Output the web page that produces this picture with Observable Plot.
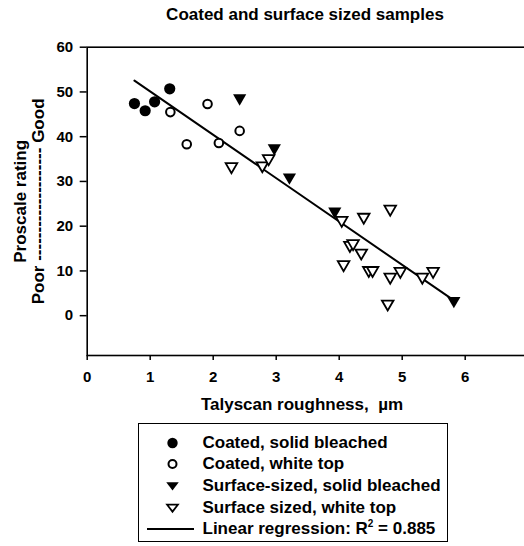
<!DOCTYPE html>
<html><head><meta charset="utf-8">
<script src="https://cdn.jsdelivr.net/npm/d3@7"></script>
<script src="https://cdn.jsdelivr.net/npm/@observablehq/plot@0.6"></script>
<style>
html,body{margin:0;padding:0;overflow:hidden;background:#fff;}
body{font-family:"Liberation Sans",Arial,sans-serif;font-weight:bold;color:#000;width:524px;height:546px;position:relative;}
#title{position:absolute;left:86px;width:438px;top:6px;line-height:18px;text-align:center;font-size:17px;white-space:nowrap;}
#chart{position:absolute;left:0;top:36px;width:540px;}
#chart svg{max-width:none !important;}
#legend{position:absolute;left:138px;top:423px;width:310px;height:119px;border:1.5px solid #000;box-sizing:border-box;}
.row{position:absolute;left:0;height:20px;width:305px;font-size:17px;line-height:20px;white-space:nowrap;}
.row svg{position:absolute;left:0;top:0;}
.row span{position:absolute;left:63.5px;top:0;}
</style>
</head><body>
<div id="title"></div>
<div id="chart"></div>
<div id="legend"></div>
<script>
// ---- data ----
const chartTitle = "Coated and surface sized samples";
const xTitle = "Talyscan roughness,  µm";
const yTitleLines = ["Proscale rating", "Poor -------------------- Good"];
const xTicks = [0, 1, 2, 3, 4, 5, 6, 7];
const yTicks = [0, 10, 20, 30, 40, 50, 60];

const seriesNames = ["Coated, solid bleached", "Coated, white top", "Surface-sized, solid bleached", "Surface sized, white top"];
const regressionLabel = "Linear regression: R";
const regressionR2 = "0.885";

const coatedSolidX = [0.75, 0.92, 1.07, 1.31];
const coatedSolidY = [47.4, 45.8, 47.8, 50.7];
const coatedWhiteX = [1.32, 1.58, 1.91, 2.09, 2.42];
const coatedWhiteY = [45.5, 38.3, 47.3, 38.6, 41.3];
const sizedSolidX = [2.42, 2.97, 3.21, 3.93, 5.82];
const sizedSolidY = [48.3, 37.1, 30.6, 23.0, 3.0];
const sizedWhiteX = [2.29, 2.78, 2.88, 4.04, 4.07, 4.17, 4.22, 4.35, 4.39, 4.47, 4.53, 4.77, 4.81, 4.81, 4.97, 5.32, 5.49];
const sizedWhiteY = [33.0, 33.2, 34.8, 21.0, 11.1, 15.4, 15.8, 13.7, 21.7, 9.8, 9.8, 2.3, 8.3, 23.5, 9.6, 8.3, 9.6];

const regressionIntercept = 59.8;
const regressionSlope = -9.69;

// ---- build tables ----
const pts = (xs, ys) => xs.map((x, i) => ({x, y: ys[i]}));
const cs = pts(coatedSolidX, coatedSolidY);
const cw = pts(coatedWhiteX, coatedWhiteY);
const ss = pts(sizedSolidX, sizedSolidY);
const sw = pts(sizedWhiteX, sizedWhiteY);
const allX = [...coatedSolidX, ...coatedWhiteX, ...sizedSolidX, ...sizedWhiteX];
const [xmin, xmax] = d3.extent(allX);
const reg = [xmin, xmax].map(x => ({x, y: regressionIntercept + regressionSlope * x}));

document.getElementById("title").textContent = chartTitle;

const font = {fontFamily: "'Liberation Sans', Arial, sans-serif", fontWeight: "bold"};

const plot = Plot.plot({
  width: 540, height: 384,
  marginLeft: 86.7, marginRight: 12.3, marginTop: 10.7, marginBottom: 65,
  x: {domain: [0, 7]},
  y: {domain: [-8.9, 60]},
  style: {...font, fontSize: "15px", color: "#000", background: "#fff", overflow: "visible"},
  marks: [
    Plot.frame({stroke: "#000", strokeWidth: 1.6}),
    Plot.axisX({ticks: xTicks, tickSize: 5, tickPadding: 11, label: null, strokeWidth: 1.5, fontSize: 15, tickFormat: d => d}),
    Plot.axisY({ticks: yTicks, tickSize: 7, tickPadding: 7, label: null, strokeWidth: 1.5, fontSize: 15, tickFormat: d => d}),
    Plot.text([xTitle], {frameAnchor: "bottom", text: d => d, textAnchor: "middle", dy: 54, dx: -5.7, fontSize: 17, fontWeight: "bold"}),
    Plot.text([yTitleLines[0]], {frameAnchor: "left", text: d => d, textAnchor: "middle", rotate: -90, dx: -66.7, fontSize: 17, fontWeight: "bold"}),
    Plot.text([yTitleLines[1]], {frameAnchor: "left", text: d => d, textAnchor: "middle", rotate: -90, dx: -48.2, fontSize: 17, fontWeight: "bold"}),
    Plot.line(reg, {x: "x", y: "y", stroke: "#000", strokeWidth: 2}),
    Plot.dot(sw, {x: "x", y: "y", symbol: "triangle", rotate: 180, r: 4.3, dy: -1.5, fill: "#fff", stroke: "#000", strokeWidth: 1.8}),
    Plot.dot(ss, {x: "x", y: "y", symbol: "triangle", rotate: 180, r: 4.9, dy: -1.5, fill: "#000", stroke: "none"}),
    Plot.dot(cw, {x: "x", y: "y", symbol: "circle", r: 4.3, fill: "#fff", stroke: "#000", strokeWidth: 2}),
    Plot.dot(cs, {x: "x", y: "y", symbol: "circle", r: 5.6, fill: "#000", stroke: "none"})
  ]
});
document.getElementById("chart").appendChild(plot);

// ---- legend ----
const legend = document.getElementById("legend");
const rowTops = [8.7, 30.3, 52, 73.7, 95.3];
const triPath = (r) => { const h = r * 1.5, w = r * 1.732; return `M${-w},${-h/2} L${w},${-h/2} L0,${h} Z`; };
const symbols = [
  `<circle cx="33.5" cy="10" r="5.2" fill="#000"/>`,
  `<circle cx="33.5" cy="10" r="4" fill="#fff" stroke="#000" stroke-width="2"/>`,
  `<path transform="translate(33.5,9)" d="${triPath(3.6)}" fill="#000"/>`,
  `<path transform="translate(33.5,9)" d="${triPath(3.1)}" fill="#fff" stroke="#000" stroke-width="1.8"/>`,
  `<line x1="8" x2="55" y1="10" y2="10" stroke="#000" stroke-width="2"/>`
];
const labels = [...seriesNames, null];
rowTops.forEach((t, i) => {
  const row = document.createElement("div");
  row.className = "row";
  row.style.top = t + "px";
  const text = i < 4 ? labels[i] : `${regressionLabel}<sup style="font-size:10px;vertical-align:7px;line-height:0">2</sup> = ${regressionR2}`;
  row.innerHTML = `<svg width="60" height="20">${symbols[i]}</svg><span>${text}</span>`;
  legend.appendChild(row);
});
</script>
</body></html>
